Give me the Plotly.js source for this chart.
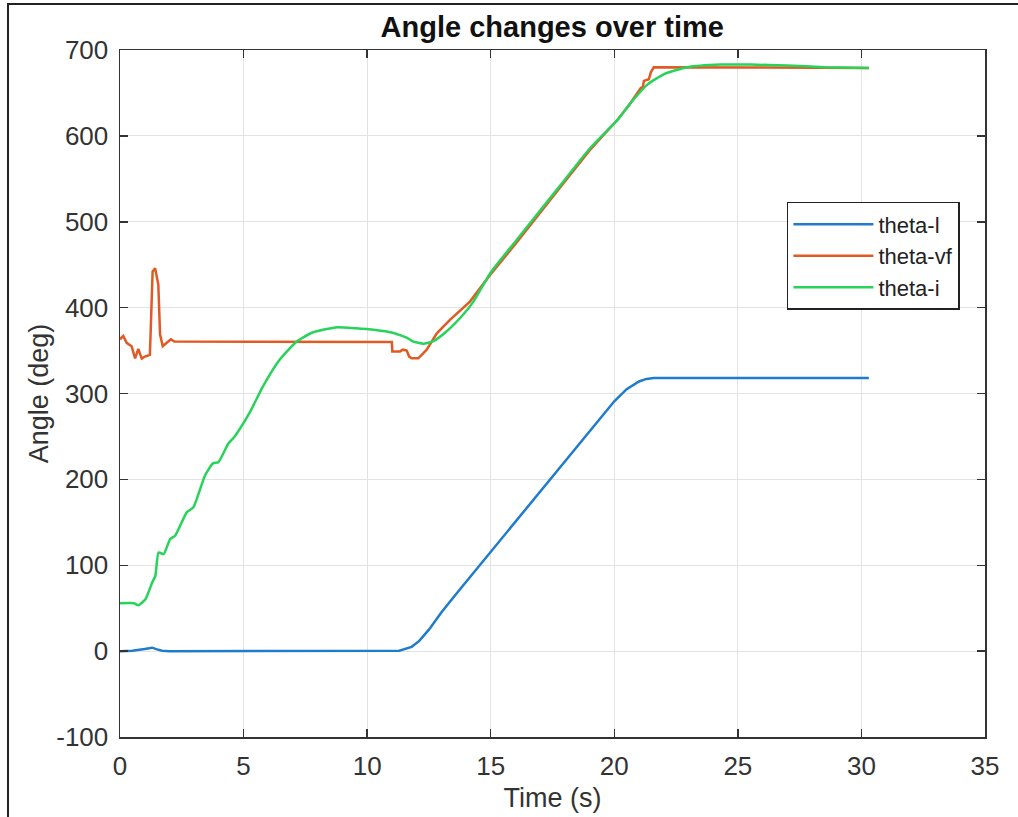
<!DOCTYPE html>
<html>
<head>
<meta charset="utf-8">
<script src="https://cdn.plot.ly/plotly-3.0.1.min.js"></script>
<style>
html,body{margin:0;padding:0;background:#fff;}
#chart{width:1018px;height:817px;}
#frame{position:absolute;left:7px;top:3px;width:1030px;height:830px;border-left:2px solid #222;border-top:2px solid #222;pointer-events:none;}
</style>
</head>
<body>
<div id="chart"></div>
<div id="frame"></div>
<script>
// theta-l
const tL = [0, 0.5, 1.0, 1.3, 1.5, 1.7, 2.0, 11.0, 11.3, 11.8, 12.1, 12.5, 13.0, 13.7, 15, 17, 19, 20, 20.5, 21.0, 21.3, 21.6, 30.3];
const thetaL = [0, 0.5, 2.5, 4, 2, 0.5, 0, 0, 0.5, 5, 11.6, 25, 45, 70, 115.6, 185.7, 255.8, 290.9, 305, 314, 317, 318, 318];

// theta-vf
const tVF = [0, 0.13, 0.27, 0.47, 0.61, 0.74, 0.88, 1.01, 1.21, 1.32, 1.42, 1.55, 1.62, 1.73, 1.89, 2.06, 2.2, 11.0, 11.02, 11.33, 11.45, 11.6, 11.7, 11.8, 12.07, 12.41, 12.82, 13.36, 14.16, 15, 16, 17, 18, 19, 20.14, 20.6, 21.08, 21.15, 21.2, 21.4, 21.48, 21.6, 30.3];
const thetaVF = [363, 367, 359, 355, 341, 352, 340.6, 343, 345, 442, 446, 427, 369, 355, 359, 363, 360.5, 360, 349, 349, 351, 350, 343, 341, 341, 351, 370, 386, 407, 439, 474, 511, 547, 583, 619, 636, 656, 656, 664, 666, 674, 680, 679];

// theta-i
const tI = [0, 0.56, 0.74, 1.03, 1.3, 1.43, 1.56, 1.77, 2.03, 2.23, 2.7, 2.97, 3.44, 3.77, 3.98, 4.38, 4.64, 5.25, 5.78, 6.45, 7.13, 7.79, 8.73, 9.54, 10.34, 11.0, 11.33, 11.6, 11.87, 12.27, 12.68, 13.22, 13.89, 14.3, 15, 16, 17, 18, 19, 20.14, 20.68, 21.35, 22.02, 22.96, 24.3, 25.5, 27, 28.5, 30.3];
const thetaI = [55.7, 55.7, 53.4, 60.4, 79.8, 87.6, 114.9, 113, 130.5, 134.4, 161.6, 167.5, 204.5, 218.9, 220, 241.5, 250, 278, 308, 339, 360, 371, 377, 376, 374, 371, 368, 365, 360.5, 358, 361, 372.5, 392, 407, 441, 477, 513, 549, 585, 619, 639, 660, 672, 680, 683, 683, 682, 680, 679];

const seriesNames = ['theta-l', 'theta-vf', 'theta-i'];
const xTicks = [0, 5, 10, 15, 20, 25, 30, 35];
const yTicks = [-100, 0, 100, 200, 300, 400, 500, 600, 700];

const FONT = 'Liberation Sans, Arial, Helvetica, sans-serif';
const traces = [
  {x: tL, y: thetaL, name: seriesNames[0], mode: 'lines', line: {color: '#1f7ccc', width: 2.5}},
  {x: tVF, y: thetaVF, name: seriesNames[1], mode: 'lines', line: {color: '#e05a24', width: 2.5}},
  {x: tI, y: thetaI, name: seriesNames[2], mode: 'lines', line: {color: '#27d35a', width: 2.5, shape: 'spline', smoothing: 0.5}}
];

const axisCommon = {
  showline: true, linecolor: '#333', linewidth: 1.5, mirror: 'allticks',
  ticks: 'inside', ticklen: 8, tickwidth: 1.5, tickcolor: '#333',
  showgrid: true, gridcolor: '#e3e3e3', gridwidth: 1, zeroline: false,
  ticklabelstandoff: 5,
  tickfont: {family: FONT, size: 26, color: '#333'}
};

const layout = {
  width: 1018, height: 817,
  paper_bgcolor: '#fff', plot_bgcolor: '#fff',
  margin: {l: 120, r: 33, t: 50, b: 80},
  title: {text: '<b>Angle changes over time</b>', font: {family: FONT, size: 29, color: '#111'}, x: 0.5425, xanchor: 'center', y: 0.967, yanchor: 'middle'},
  xaxis: Object.assign({}, axisCommon, {
    range: [0, 35], tickvals: xTicks, ticktext: xTicks.map(String),
    title: {text: 'Time (s)', font: {family: FONT, size: 27, color: '#333'}, standoff: 8}
  }),
  yaxis: Object.assign({}, axisCommon, {
    range: [-100, 700], tickvals: yTicks, ticktext: yTicks.map(String),
    title: {text: 'Angle (deg)', font: {family: FONT, size: 27, color: '#333'}, standoff: 0}
  }),
  legend: {
    x: 0.771, y: 0.779, xanchor: 'left', yanchor: 'top',
    bgcolor: '#fff', bordercolor: '#222', borderwidth: 1.5,
    font: {family: FONT, size: 22, color: '#222'},
    itemwidth: 80, tracegroupgap: 0
  },
  showlegend: true
};

Plotly.newPlot('chart', traces, layout, {displayModeBar: false, staticPlot: true});
</script>
</body>
</html>
